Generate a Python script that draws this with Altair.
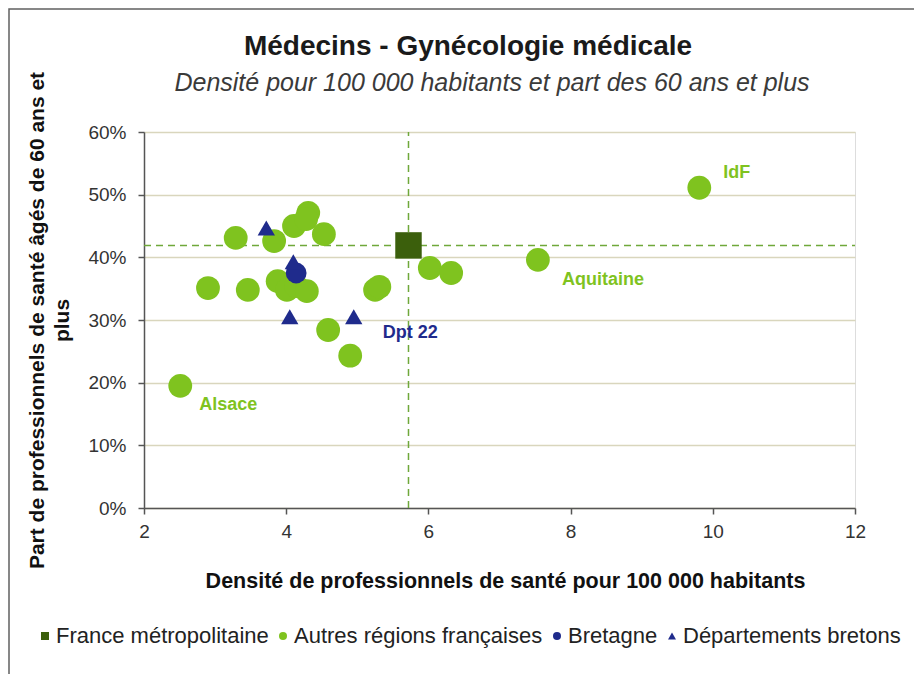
import altair as alt
import pandas as pd

# ---- data ----
categories = ["France métropolitaine", "Autres régions françaises", "Bretagne", "Départements bretons"]

france_x = [5.72]
france_y = [0.419]

autres_x = [2.51, 2.90, 3.29, 3.46, 3.83, 3.88, 4.01, 4.14, 4.11, 4.31, 4.28,
            4.53, 4.29, 4.59, 4.90, 5.25, 5.31, 6.02, 6.32, 7.54, 9.81]
autres_y = [0.195, 0.351, 0.431, 0.348, 0.426, 0.362, 0.348, 0.354, 0.450, 0.471, 0.461,
            0.437, 0.346, 0.284, 0.243, 0.348, 0.353, 0.383, 0.375, 0.396, 0.511]
autres_labels = ["Alsace", "", "", "", "", "", "", "", "", "", "",
                 "", "", "", "", "", "", "", "", "Aquitaine", "IdF"]

bretagne_x = [4.14]
bretagne_y = [0.375]

dept_x = [3.72, 4.10, 4.05, 4.95]
dept_y = [0.447, 0.393, 0.305, 0.305]
dept_labels = ["", "", "", "Dpt 22"]

x_ticks = [2, 4, 6, 8, 10, 12]
y_ticks = [0, 0.1, 0.2, 0.3, 0.4, 0.5, 0.6]

title_text = "Médecins - Gynécologie médicale"
subtitle_text = "Densité pour 100 000 habitants et part des 60 ans et plus"
x_title = "Densité de professionnels de santé pour 100 000 habitants"
y_title = ["Part  de professionnels de santé âgés de 60 ans et", "plus"]

# ---- styles ----
GREEN = "#7fc31f"
DARK_GREEN = "#3b5f0c"
NAVY = "#1f2b8c"
DASH = "#6fa83a"
FONT = "Liberation Sans"

rows = []
for x, y in zip(france_x, france_y):
    rows.append({"cat": categories[0], "x": x, "y": y, "label": "", "z": 2})
for x, y, l in zip(autres_x, autres_y, autres_labels):
    rows.append({"cat": categories[1], "x": x, "y": y, "label": l, "z": 1})
for x, y in zip(bretagne_x, bretagne_y):
    rows.append({"cat": categories[2], "x": x, "y": y, "label": "", "z": 3})
for x, y, l in zip(dept_x, dept_y, dept_labels):
    rows.append({"cat": categories[3], "x": x, "y": y, "label": l, "z": 4})
df = pd.DataFrame(rows)
df["sizecat"] = df["cat"]
df_fr = df[df["cat"] == categories[0]]

xscale = alt.Scale(domain=[2, 12], nice=False, zero=False)
yscale = alt.Scale(domain=[0, 0.6], nice=False)
cscale = alt.Scale(domain=categories, range=[DARK_GREEN, GREEN, NAVY, NAVY])
sscale = alt.Scale(domain=categories, range=["square", "circle", "circle", "triangle-up"])

X = alt.X("x:Q", scale=xscale, axis=alt.Axis(
    values=x_ticks, format="d", title=x_title, grid=False, labelFlush=False,
    domainColor="#555555", domainWidth=1.5, tickColor="#555555", tickWidth=1.5, tickSize=6,
    labelFontSize=19, labelColor="#333333", labelPadding=8, labelFont=FONT,
    titleFontSize=21.5, titleFontWeight="bold", titleColor="#111111", titleFont=FONT,
    titleX=361, titleY=79, titleBaseline="alphabetic", titleAlign="center"))
Y = alt.Y("y:Q", scale=yscale, axis=alt.Axis(
    values=y_ticks, format=".0%", title=y_title, grid=True,
    gridColor="#d9d6bd", gridWidth=1.5,
    domainColor="#555555", domainWidth=1.5, tickColor="#555555", tickWidth=1.5, tickSize=6,
    labelFontSize=19, labelColor="#333333", labelPadding=12, labelFont=FONT,
    titleFontSize=21, titleFontWeight="bold", titleColor="#111111", titleFont=FONT,
    titleAngle=270, titleX=-118, titleY=188, titleBaseline="top", titleAlign="center",
    titleLineHeight=25))

legend = alt.Legend(title=None, orient="none", legendX=-110, legendY=493, direction="horizontal",
                    labelFontSize=22, labelFont=FONT, labelColor="#222222", symbolSize=64,
                    symbolStrokeWidth=0, labelOffset=0, columnPadding=3, labelLimit=0)

vline = alt.Chart(df_fr).mark_rule(color=DASH, strokeDash=[7, 5], strokeWidth=1.5).encode(
    x=alt.X("x:Q", scale=xscale), y=alt.Y(datum=0, scale=yscale), y2=alt.Y2(datum=0.6))
hline = alt.Chart(df_fr).mark_rule(color=DASH, strokeDash=[7, 5], strokeWidth=1.5).encode(
    y=alt.Y("y:Q", scale=yscale), x=alt.X(datum=2, scale=xscale), x2=alt.X2(datum=12))

points = alt.Chart(df).mark_point(filled=True, opacity=1, strokeWidth=0).encode(
    x=X, y=Y,
    color=alt.Color("cat:N", scale=cscale, legend=None),
    shape=alt.Shape("cat:N", scale=sscale, legend=None),
    size=alt.Size("sizecat:N", scale=alt.Scale(domain=categories, range=[700, 300, 300, 290]), legend=None),
    order=alt.Order("z:Q"),
)

# empty layer that only carries the legend (small symbols)
legend_layer = alt.Chart(df).transform_filter(alt.datum.x < 0).mark_point(
    filled=True, opacity=1, size=64, strokeWidth=0).encode(
    x=alt.X("x:Q", scale=xscale), y=alt.Y("y:Q", scale=yscale),
    color=alt.Color("cat:N", scale=cscale, legend=legend),
    shape=alt.Shape("cat:N", scale=sscale, legend=legend),
)

def lab(name, dx, dy, color):
    return alt.Chart(df).transform_filter(alt.datum.label == name).mark_text(
        align="left", baseline="middle", dx=dx, dy=dy, fontSize=18, fontWeight="bold",
        font=FONT, color=color).encode(x=alt.X("x:Q", scale=xscale), y=alt.Y("y:Q", scale=yscale), text="label:N")

labels = [lab("Alsace", 19, 19, GREEN), lab("Aquitaine", 24, 20, GREEN),
          lab("IdF", 24, -15, GREEN), lab("Dpt 22", 29, 16, NAVY)]

t1 = alt.Chart(pd.DataFrame({"t": [title_text]})).mark_text(
    fontSize=28, fontWeight="bold", font=FONT, color="#1a1a1a", align="center", baseline="alphabetic"
).encode(text="t:N", x=alt.value(324), y=alt.value(-77))
t2 = alt.Chart(pd.DataFrame({"t": [subtitle_text]})).mark_text(
    fontSize=25, fontStyle="italic", font=FONT, color="#3a3a3a", align="center", baseline="alphabetic"
).encode(text="t:N", x=alt.value(348), y=alt.value(-41))

border = alt.Chart(pd.DataFrame({"a": [0]})).mark_rect(
    fillOpacity=0, stroke="#606060", strokeWidth=1.5
).encode(x=alt.value(-135), y=alt.value(-123), x2=alt.value(1500), y2=alt.value(1500))

chart = alt.layer(border, vline, hline, points, legend_layer, *labels, t1, t2).resolve_scale(
    color="independent", shape="independent"
).properties(
    width=711, height=376,
    autosize=alt.AutoSizeParams(type="none"),
    padding={"left": 136, "top": 124, "right": 59, "bottom": 166},
).configure_view(stroke=None).configure(font=FONT)

chart.save("out.html", embed_options={"renderer": "svg", "actions": False})
